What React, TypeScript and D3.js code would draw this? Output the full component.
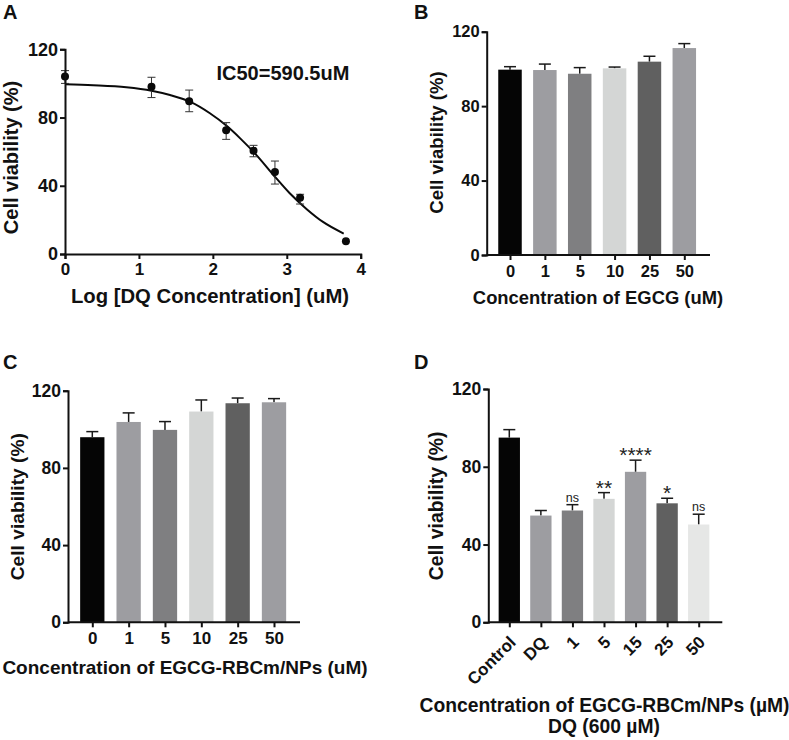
import React, { useEffect, useRef } from 'react';
import * as d3 from 'd3';

// Panel A: dose response
const doseLog = [0, 1.17, 1.68, 2.18, 2.55, 2.84, 3.18, 3.8];
const doseMean = [104, 98, 89.5, 72.5, 60.5, 48, 33, 7.5];
const doseUpper = [107.5, 103.6, 96.1, 77, 63.7, 54.5, 35, 7.5];
const doseLower = [100, 91.7, 83.4, 67.2, 57, 41, 29.3, 7.5];
const fitLog = [0, 0.38, 0.83, 1.17, 1.42, 1.69, 1.96, 2.19, 2.37, 2.59, 2.82, 3.04, 3.27, 3.49, 3.77];
const fitValue = [99.5, 98.9, 97.7, 95.7, 93.2, 89.3, 82.5, 75, 67.8, 58, 46.3, 35.6, 26.3, 18.8, 12];

// Panel B
const egcgLabels = ['0', '1', '5', '10', '25', '50'];
const egcgMeans = [99.6, 99.4, 97.4, 100.3, 103.9, 111.2];
const egcgCaps = [101.2, 102.6, 100.7, 101, 106.8, 113.6];
const egcgColors = ['#050505', '#9d9da1', '#7f7f81', '#d4d6d5', '#606060', '#9d9da1'];

// Panel C
const npLabels = ['0', '1', '5', '10', '25', '50'];
const npMeans = [95.9, 103.8, 99.7, 109.2, 113.5, 114];
const npCaps = [98.8, 108.5, 104, 115.2, 116.2, 115.9];
const npColors = ['#050505', '#9d9da1', '#7f7f81', '#d4d6d5', '#606060', '#9d9da1'];

// Panel D
const comboLabels = ['Control', 'DQ', '1', '5', '15', '25', '50'];
const comboMeans = [95, 54.9, 57.5, 63.5, 77.4, 61.2, 50.3];
const comboCaps = [99.1, 57.5, 60.5, 66.7, 83.4, 63.8, 55.6];
const comboSig = ['', '', 'ns', '**', '****', '*', 'ns'];
const comboColors = ['#050505', '#9d9da1', '#7f7f81', '#d4d6d5', '#9d9da1', '#606060', '#e6e7e6'];

const yTicks = [0, 40, 80, 120];
const FONT = '"Liberation Sans", Arial, sans-serif';
const INK = '#111111';

type Sel = d3.Selection<SVGGElement, unknown, null, undefined>;

const styleAxis = (g: Sel, size: number) => {
  g.selectAll('.domain').attr('stroke', INK).attr('stroke-width', 2);
  g.selectAll('.tick line').attr('stroke', INK).attr('stroke-width', 2);
  g.selectAll('.tick text')
    .attr('fill', INK)
    .attr('font-family', FONT)
    .attr('font-weight', 'bold')
    .attr('font-size', size);
};

const addText = (g: Sel, x: number, y: number, text: string, size: number, anchor = 'middle', rotate = false) =>
  g.append('text')
    .attr('transform', `translate(${x},${y})${rotate ? ' rotate(-90)' : ''}`)
    .attr('text-anchor', anchor)
    .attr('font-family', FONT)
    .attr('font-weight', 'bold')
    .attr('font-size', size)
    .attr('fill', INK)
    .text(text);

const drawBars = (
  g: Sel,
  labels: string[],
  means: number[],
  caps: number[],
  colors: string[],
  o: { x0: number; x1: number; first: number; last: number; y0: number; y1: number; barW: number; yFont: number; xFont: number }
) => {
  const x = d3.scalePoint<string>().domain(labels).range([o.first, o.last]);
  const y = d3.scaleLinear().domain([0, 120]).range([o.y0, o.y1]);

  labels.forEach((l, i) => {
    const cx = x(l) as number;
    g.append('line').attr('x1', cx).attr('x2', cx).attr('y1', y(means[i])).attr('y2', y(caps[i]))
      .attr('stroke', '#1a1a1a').attr('stroke-width', 1.5);
    g.append('line').attr('x1', cx - 6).attr('x2', cx + 6).attr('y1', y(caps[i])).attr('y2', y(caps[i]))
      .attr('stroke', '#1a1a1a').attr('stroke-width', 1.5);
    g.append('rect').attr('x', cx - o.barW / 2).attr('width', o.barW)
      .attr('y', y(means[i])).attr('height', o.y0 - y(means[i]))
      .attr('fill', colors[i]);
  });

  const yAxis = g.append('g').attr('transform', `translate(${o.x0},0)`)
    .call(d3.axisLeft(y).tickValues(yTicks).tickSizeOuter(0).tickSize(5).tickPadding(2));
  styleAxis(yAxis, o.yFont);

  // x axis line runs past the outer bars, so the domain is drawn separately
  g.append('line').attr('x1', o.x0).attr('x2', o.x1).attr('y1', o.y0).attr('y2', o.y0)
    .attr('stroke', INK).attr('stroke-width', 2);
  const xAxis = g.append('g').attr('transform', `translate(0,${o.y0})`)
    .call(d3.axisBottom(x).tickSize(5).tickPadding(5));
  xAxis.select('.domain').remove();
  styleAxis(xAxis, o.xFont);
  return { x, y, xAxis };
};

const App: React.FC = () => {
  const svgRef = useRef<SVGSVGElement | null>(null);

  useEffect(() => {
    if (!svgRef.current) return;
    const svg = d3.select(svgRef.current);
    svg.selectAll('*').remove();
    const root = svg.append('g') as unknown as Sel;

    // --- Panel letters ---
    addText(root, 3, 19, 'A', 20, 'start');
    addText(root, 414, 19, 'B', 20, 'start');
    addText(root, 3, 369, 'C', 20, 'start');
    addText(root, 414, 369, 'D', 20, 'start');

    // --- Panel A ---
    const a = root.append('g') as unknown as Sel;
    const ax = d3.scaleLinear().domain([0, 4]).range([65, 360.7]);
    const ay = d3.scaleLinear().domain([0, 120]).range([254, 49.3]);

    const line = d3.line<number>()
      .x(d => ax(d))
      .y((_, i) => ay(fitValue[i]))
      .curve(d3.curveMonotoneX);
    a.append('path').attr('d', line(fitLog)).attr('fill', 'none').attr('stroke', '#0a0a0a').attr('stroke-width', 2);

    doseLog.forEach((d, i) => {
      if (doseUpper[i] === doseLower[i]) return;
      const cx = ax(d);
      a.append('line').attr('x1', cx).attr('x2', cx).attr('y1', ay(doseUpper[i])).attr('y2', ay(doseLower[i]))
        .attr('stroke', '#333333').attr('stroke-width', 1);
      [doseUpper[i], doseLower[i]].forEach(v => {
        a.append('line').attr('x1', cx - 4).attr('x2', cx + 4).attr('y1', ay(v)).attr('y2', ay(v))
          .attr('stroke', '#333333').attr('stroke-width', 1);
      });
    });
    a.selectAll('circle.dose').data(doseLog).enter().append('circle')
      .attr('cx', d => ax(d)).attr('cy', (_, i) => ay(doseMean[i])).attr('r', 4).attr('fill', '#0a0a0a');

    styleAxis(a.append('g').attr('transform', 'translate(65,0)')
      .call(d3.axisLeft(ay).tickValues(yTicks).tickSizeOuter(0).tickSize(5).tickPadding(2)), 18);
    styleAxis(a.append('g').attr('transform', 'translate(0,254)')
      .call(d3.axisBottom(ax).ticks(4).tickFormat(d3.format('d')).tickSizeOuter(0).tickSize(5).tickPadding(4)), 17);

    addText(a, 216.5, 80, 'IC50=590.5uM', 20, 'start');
    addText(a, 210, 303, 'Log [DQ Concentration] (uM)', 20.3);
    addText(a, 18, 157.5, 'Cell viability (%)', 20, 'middle', true);

    // --- Panel B ---
    const b = root.append('g') as unknown as Sel;
    drawBars(b, egcgLabels, egcgMeans, egcgCaps, egcgColors, { x0: 486.7, x1: 710, first: 510, last: 684.3, y0: 255, y1: 31.7, barW: 23.5, yFont: 16.5, xFont: 16.5 });
    addText(b, 598, 304, 'Concentration of EGCG (uM)', 18.4);
    addText(b, 443, 142.5, 'Cell viability (%)', 18.6, 'middle', true);

    // --- Panel C ---
    const c = root.append('g') as unknown as Sel;
    drawBars(c, npLabels, npMeans, npCaps, npColors, { x0: 68, x1: 300, first: 92.3, last: 274, y0: 622.3, y1: 390.7, barW: 24.3, yFont: 17.5, xFont: 17 });
    addText(c, 185, 674, 'Concentration of EGCG-RBCm/NPs (uM)', 19);
    addText(c, 24, 506.7, 'Cell viability (%)', 19.2, 'middle', true);

    // --- Panel D ---
    const e = root.append('g') as unknown as Sel;
    const dPanel = drawBars(e, comboLabels, comboMeans, comboCaps, comboColors, { x0: 488.3, x1: 722.3, first: 509.3, last: 698.7, y0: 622.3, y1: 389, barW: 21.3, yFont: 17.5, xFont: 17 });
    dPanel.xAxis.selectAll<SVGTextElement, string>('.tick text')
      .attr('text-anchor', 'end')
      .attr('dy', 0)
      .attr('transform', 'translate(0,14) rotate(-45)');

    comboLabels.forEach((l, i) => {
      if (!comboSig[i]) return;
      const isNs = comboSig[i] === 'ns';
      e.append('text')
        .attr('x', dPanel.x(l) as number)
        .attr('y', dPanel.y(comboCaps[i]) + (isNs ? -3 : 2))
        .attr('text-anchor', 'middle')
        .attr('font-family', FONT)
        .attr('font-size', isNs ? 12.5 : 21)
        .attr('fill', '#222222')
        .text(comboSig[i]);
    });

    addText(e, 604.5, 711.7, 'Concentration of EGCG-RBCm/NPs (µM)', 19.3);
    addText(e, 604, 733, 'DQ (600 µM)', 19.3);
    addText(e, 442.7, 505.8, 'Cell viability (%)', 19.4, 'middle', true);
  }, []);

  return (
    <svg
      ref={svgRef}
      width={789}
      height={740}
      style={{ position: 'absolute', top: 0, left: 0, background: '#fff' }}
    />
  );
};

export default App;
